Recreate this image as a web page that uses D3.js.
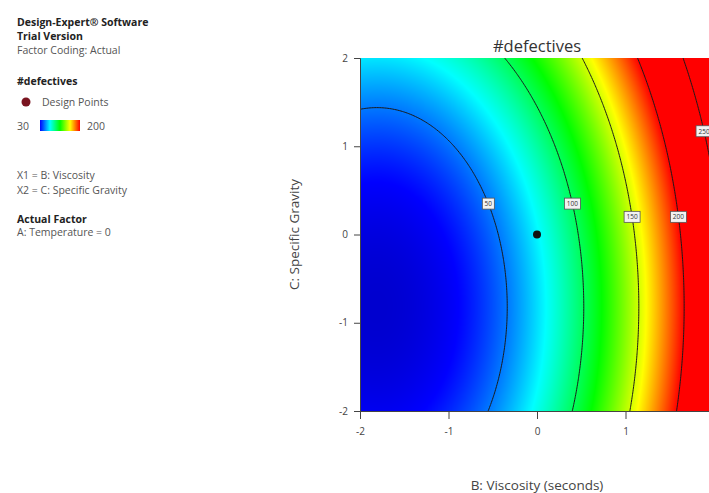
<!DOCTYPE html>
<html>
<head>
<meta charset="utf-8">
<script src="https://cdn.jsdelivr.net/npm/d3@7"></script>
<style>
  body { margin: 0; background: #fff; }
  svg { font-family: "Segoe UI", "Open Sans", "DejaVu Sans", sans-serif; }
</style>
</head>
<body>
<svg id="chart" width="709" height="493"></svg>
<script>
// fitted quadratic model, coded units: intercept, B, C, B^2, C^2, BC
const coef = [71.1, 54.9, 10.59, 15.18, 6.44, 0];
const xDomain = [-2, 2];
const yDomain = [-2, 2];
const xTicks = [-2, -1, 0, 1];
const yTicks = [-2, -1, 0, 1, 2];
const levels = [50, 100, 150, 200, 250];
const labelRows = [0.35, 0.35, 0.2, 0.2, 1.17];   // C value where each level is labelled
const designPoints = [[0, 0]];
const legendRange = [30, 200];
const colorValues = [10, 30, 72.5, 115, 157.5, 200];
const colorRange = ['#0000b4', '#0000ff', '#00ffff', '#00ff00', '#ffff00', '#ff0000'];

const m = { left: 360, top: 58, w: 354, h: 353 };

const svg = d3.select('#chart');
const x = d3.scaleLinear().domain(xDomain).range([m.left, m.left + m.w]);
const y = d3.scaleLinear().domain(yDomain).range([m.top + m.h, m.top]);
const color = d3.scaleLinear().domain(colorValues).range(colorRange).clamp(true);

const f = (b, c) => coef[0] + coef[1] * b + coef[2] * c + coef[3] * b * b + coef[4] * c * c + coef[5] * b * c;

// surface, painted pixel by pixel on a canvas then placed as an image
const cv = document.createElement('canvas');
cv.width = m.w; cv.height = m.h;
const ctx = cv.getContext('2d');
const img = ctx.createImageData(m.w, m.h);
for (let j = 0; j < m.h; j++) {
  const cy = y.invert(m.top + j + 0.5);
  for (let i = 0; i < m.w; i++) {
    const bx = x.invert(m.left + i + 0.5);
    const c = d3.rgb(color(f(bx, cy)));
    const k = (j * m.w + i) * 4;
    img.data[k] = c.r; img.data[k + 1] = c.g; img.data[k + 2] = c.b; img.data[k + 3] = 255;
  }
}
ctx.putImageData(img, 0, 0);

const defs = svg.append('defs');
defs.append('clipPath').attr('id', 'plot-clip')
  .append('rect').attr('x', m.left).attr('y', m.top).attr('width', m.w).attr('height', m.h);

const plot = svg.append('g').attr('clip-path', 'url(#plot-clip)');
plot.append('image')
  .attr('x', m.left).attr('y', m.top).attr('width', m.w).attr('height', m.h)
  .attr('preserveAspectRatio', 'none')
  .attr('href', cv.toDataURL());

// contour lines from a grid that runs a little past the plot edges
const n = 240, g0 = -2.2, g1 = 2.2, step = (g1 - g0) / (n - 1);
const grid = new Array(n * n);
for (let j = 0; j < n; j++) {
  for (let i = 0; i < n; i++) grid[j * n + i] = f(g0 + i * step, g0 + j * step);
}
const proj = d3.geoTransform({
  point(px, py) { this.stream.point(x(g0 + (px - 0.5) * step), y(g0 + (py - 0.5) * step)); }
});
plot.append('g').selectAll('path')
  .data(d3.contours().size([n, n]).thresholds(levels)(grid))
  .join('path')
  .attr('d', d3.geoPath(proj))
  .attr('fill', 'none')
  .attr('stroke', '#1a1a1a')
  .attr('stroke-width', 1);

// contour labels
const labels = plot.append('g').selectAll('g')
  .data(levels.map((L, i) => {
    const cy = labelRows[i];
    const a = coef[3], b = coef[1] + coef[5] * cy, c = coef[0] + coef[2] * cy + coef[4] * cy * cy - L;
    return { L, b: (-b + Math.sqrt(b * b - 4 * a * c)) / (2 * a), c: cy };
  }))
  .join('g')
  .attr('transform', d => `translate(${x(d.b)},${y(d.c)})`);
labels.append('rect')
  .attr('x', d => String(d.L).length > 2 ? -8 : -6).attr('y', -5.5)
  .attr('width', d => String(d.L).length > 2 ? 16 : 12).attr('height', 11)
  .attr('fill', '#f2f2f2').attr('stroke', '#555').attr('stroke-width', 0.8);
labels.append('text')
  .attr('text-anchor', 'middle').attr('dy', '0.35em')
  .attr('font-size', 6.5).attr('fill', '#333')
  .text(d => d.L);

// design points
plot.selectAll('circle.dp').data(designPoints).join('circle')
  .attr('class', 'dp')
  .attr('cx', d => x(d[0])).attr('cy', d => y(d[1]))
  .attr('r', 4).attr('fill', '#111');

// axes
const xAxis = svg.append('g').attr('transform', `translate(0,${m.top + m.h})`)
  .call(d3.axisBottom(x).tickValues(xTicks).tickSize(8).tickPadding(9).tickFormat(d => String(d)));
const yAxis = svg.append('g').attr('transform', `translate(${m.left},0)`)
  .call(d3.axisLeft(y).tickValues(yTicks).tickSize(6).tickPadding(6).tickFormat(d => String(d)));
[xAxis, yAxis].forEach(a => {
  a.select('.domain').attr('stroke', '#444').attr('stroke-width', 1);
  a.selectAll('.tick line').attr('stroke', '#444');
  a.selectAll('.tick text').attr('font-size', 10).attr('fill', '#444')
    .attr('font-family', '"Segoe UI", "Open Sans", sans-serif');
});

// titles
svg.append('text').attr('x', x(0)).attr('y', 52)
  .attr('text-anchor', 'middle').attr('font-size', 16.5).attr('fill', '#333')
  .text('#defectives');
svg.append('text').attr('x', x(0)).attr('y', 490)
  .attr('text-anchor', 'middle').attr('font-size', 13.5).attr('fill', '#444')
  .text('B: Viscosity (seconds)');
svg.append('text')
  .attr('transform', `translate(299,${y(0)}) rotate(-90)`)
  .attr('text-anchor', 'middle').attr('font-size', 13.5).attr('fill', '#444')
  .text('C: Specific Gravity');

// left info panel
const info = [
  { t: 'Design-Expert® Software', y: 26, bold: true },
  { t: 'Trial Version', y: 40, bold: true },
  { t: 'Factor Coding: Actual', y: 54 },
  { t: '#defectives', y: 85, bold: true },
  { t: 'X1 = B: Viscosity', y: 179 },
  { t: 'X2 = C: Specific Gravity', y: 194 },
  { t: 'Actual Factor', y: 223, bold: true },
  { t: 'A: Temperature = 0', y: 236 }
];
svg.append('g').selectAll('text').data(info).join('text')
  .attr('x', 17).attr('y', d => d.y)
  .attr('font-size', 10.5)
  .attr('font-weight', d => d.bold ? 'bold' : 'normal')
  .attr('fill', d => d.bold ? '#222' : '#555')
  .text(d => d.t);

svg.append('circle').attr('cx', 26).attr('cy', 102).attr('r', 4.5).attr('fill', '#7a1420');
svg.append('text').attr('x', 42).attr('y', 106).attr('font-size', 10.5).attr('fill', '#555').text('Design Points');

const grad = defs.append('linearGradient').attr('id', 'legend-grad');
grad.selectAll('stop').data(colorValues.filter(v => v >= legendRange[0])).join('stop')
  .attr('offset', d => (d - legendRange[0]) / (legendRange[1] - legendRange[0]))
  .attr('stop-color', d => color(d));
svg.append('rect').attr('x', 40).attr('y', 120).attr('width', 40).attr('height', 11).attr('fill', 'url(#legend-grad)');
svg.append('text').attr('x', 17).attr('y', 130).attr('font-size', 10.5).attr('fill', '#555').text(legendRange[0]);
svg.append('text').attr('x', 87).attr('y', 130).attr('font-size', 10.5).attr('fill', '#555').text(legendRange[1]);
</script>
</body>
</html>
